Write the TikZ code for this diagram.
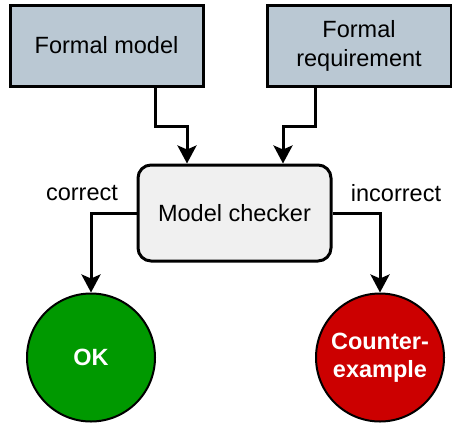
\documentclass[tikz,border=0pt]{standalone}
\usepackage{fontspec}
\setmainfont{Liberation Sans}
\usetikzlibrary{arrows.meta}
\definecolor{boxblue}{HTML}{BAC8D3}
\definecolor{mcgray}{HTML}{F0F0F0}
\definecolor{okgreen}{HTML}{009900}
\definecolor{cered}{HTML}{CC0000}
\tikzset{
  inbox/.style={draw=black, line width=3pt, fill=boxblue, minimum width=193pt, minimum height=81pt, inner sep=0pt, align=center, font=\fontsize{23.5}{29}\selectfont},
  checkbox/.style={draw=black, line width=3pt, fill=mcgray, rounded corners=13pt, minimum width=193pt, minimum height=96pt, inner sep=0pt, align=center, font=\fontsize{23.5}{29}\selectfont},
  result/.style={circle, draw=black, line width=2pt, minimum size=128pt, inner sep=0pt, align=center, text=white, font=\fontsize{23.5}{28}\selectfont\bfseries},
  lbl/.style={font=\fontsize{23.5}{29}\selectfont, inner sep=0pt},
  conn/.style={line width=3pt, -{Stealth[length=18pt, width=19pt, inset=4pt]}}
}
\begin{document}
\begin{tikzpicture}[x=1pt, y=-1pt]
\useasboundingbox (0,0) rectangle (452,423);
\node[inbox] (fm) at (106.5,45.5) {Formal model};
\node[inbox, minimum width=184pt] (fr) at (359,45.5) {Formal\\requirement};
\node[checkbox] (mc) at (234.5,213) {Model checker};
\node[result, fill=okgreen] (ok) at (91,357.5) {OK};
\node[result, fill=cered] (ce) at (380,357.5) {Counter-\\example};
\node[lbl] (lc) at (82,193) {correct};
\node[lbl] (li) at (396,193) {incorrect};
\draw[conn] ([xshift=48.5pt]fm.south) -- ++(0,39) -| ([xshift=-47.5pt]mc.north);
\draw[conn] ([xshift=-44pt]fr.south) -- ++(0,39) -| ([xshift=48.5pt]mc.north);
\draw[conn] (mc.west) -| (ok.north);
\draw[conn] (mc.east) -| (ce.north);
\end{tikzpicture}
\end{document}
